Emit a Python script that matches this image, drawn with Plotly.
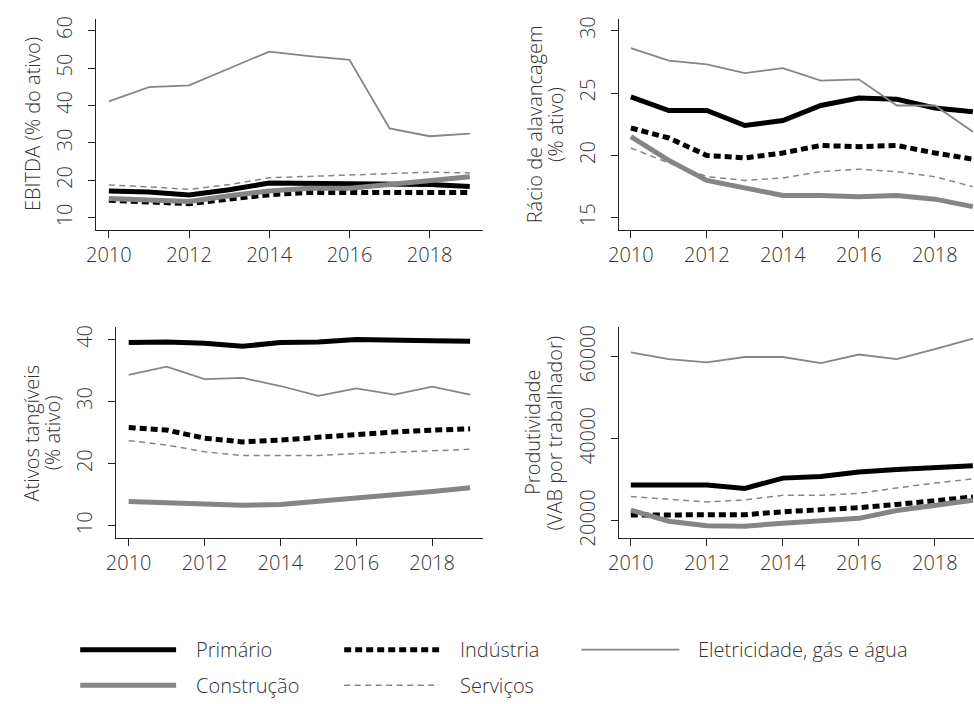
import plotly.graph_objects as go

W, H = 974, 704

years = list(range(2010, 2020))
sectors = ["Primário", "Indústria", "Eletricidade, gás e água", "Construção", "Serviços"]

# EBITDA (% do ativo)
ebitda_primario = [17.2, 16.9, 16.1, 17.5, 19.3, 19.2, 19.1, 18.9, 18.9, 18.4]
ebitda_industria = [14.7, 14.3, 13.8, 15.0, 16.2, 16.8, 16.8, 16.9, 16.9, 16.8]
ebitda_eletricidade = [41.1, 44.9, 45.4, 49.8, 54.4, 53.2, 52.2, 33.9, 31.8, 32.5]
ebitda_construcao = [15.2, 14.8, 14.4, 15.9, 17.2, 17.9, 17.9, 18.9, 19.8, 21.0]
ebitda_servicos = [18.8, 18.3, 17.6, 18.9, 20.7, 21.1, 21.3, 21.8, 22.2, 22.0]

# Rácio de alavancagem (% ativo)
alav_primario = [24.7, 23.6, 23.6, 22.4, 22.8, 24.0, 24.6, 24.5, 23.8, 23.5]
alav_industria = [22.2, 21.4, 20.0, 19.8, 20.2, 20.8, 20.7, 20.8, 20.2, 19.7]
alav_eletricidade = [28.6, 27.6, 27.3, 26.6, 27.0, 26.0, 26.1, 24.0, 24.0, 21.9]
alav_construcao = [21.5, 19.6, 18.0, 17.4, 16.8, 16.8, 16.7, 16.8, 16.5, 15.9]
alav_servicos = [20.6, 19.4, 18.3, 18.0, 18.2, 18.7, 18.9, 18.7, 18.3, 17.5]

# Ativos tangíveis (% ativo)
tang_primario = [39.5, 39.6, 39.4, 38.9, 39.5, 39.6, 40.0, 40.0, 39.8, 39.7]
tang_industria = [25.8, 25.4, 24.1, 23.5, 23.8, 24.3, 24.7, 25.1, 25.4, 25.6]
tang_eletricidade = [34.3, 35.6, 33.6, 33.8, 32.5, 30.9, 32.1, 31.1, 32.4, 31.1]
tang_construcao = [13.9, 13.7, 13.5, 13.3, 13.4, 13.9, 14.4, 15.0, 15.5, 16.1]
tang_servicos = [23.7, 23.0, 21.9, 21.3, 21.3, 21.3, 21.6, 21.8, 22.0, 22.3]

# Produtividade (VAB por trabalhador)
prod_primario = [28700, 28800, 28700, 27900, 30400, 30800, 31900, 32500, 32800, 33400]
prod_industria = [21400, 21400, 21200, 21500, 22200, 22600, 23200, 24000, 24800, 25800]
prod_eletricidade = [61000, 59400, 58600, 59900, 59900, 58400, 60500, 59400, 61800, 64400]
prod_construcao = [22600, 19900, 18800, 18700, 19400, 20100, 20600, 22500, 23700, 25000]
prod_servicos = [25900, 25200, 24600, 25100, 26200, 26200, 26700, 28000, 29200, 30200]

x_ticks = [2010, 2012, 2014, 2016, 2018]

GRAY = "#858585"
TEXT = "#333333"
AXIS = "#222222"
FONT = "Open Sans"

styles = {
    "Primário": dict(color="black", width=5, dash="solid"),
    "Indústria": dict(color="black", width=5, dash="7px,4px"),
    "Eletricidade, gás e água": dict(color=GRAY, width=1.8, dash="solid"),
    "Construção": dict(color=GRAY, width=5, dash="solid"),
    "Serviços": dict(color=GRAY, width=1.5, dash="6px,4.5px"),
}

panels = [
    dict(series=[ebitda_primario, ebitda_industria, ebitda_eletricidade, ebitda_construcao, ebitda_servicos],
         dom_x=(86, 477), dom_y=(17, 231), xr=[2009.68, 2019.32], yr=[6.84, 63.16],
         yticks=[10, 20, 30, 40, 50, 60], title=[("EBITDA (% do ativo)", 21)]),
    dict(series=[alav_primario, alav_industria, alav_eletricidade, alav_construcao, alav_servicos],
         dom_x=(615, 974), dom_y=(17, 231), xr=[2009.69, 2019.03], yr=[14.05, 30.95],
         yticks=[15, 20, 25, 30], title=[("Rácio de alavancagem", 529), ("(% ativo)", 550)]),
    dict(series=[tang_primario, tang_industria, tang_eletricidade, tang_construcao, tang_servicos],
         dom_x=(106, 477), dom_y=(330, 544), xr=[2009.66, 2019.33], yr=[7.98, 41.95],
         yticks=[10, 20, 30, 40], title=[("Ativos tangíveis", 21), ("(% ativo)", 42)]),
    dict(series=[prod_primario, prod_industria, prod_eletricidade, prod_construcao, prod_servicos],
         dom_x=(615, 974), dom_y=(330, 544), xr=[2009.69, 2019.03], yr=[15750, 67130],
         yticks=[20000, 40000, 60000], title=[("Produtividade", 528), ("(VAB por trabalhador)", 550)]),
]


def px_x(x):
    return x / W


def px_y(y):
    return 1 - y / H


fig = go.Figure()
annotations = []
shapes = []

for i, p in enumerate(panels, start=1):
    sfx = "" if i == 1 else str(i)
    for name, vals in zip(sectors, p["series"]):
        fig.add_trace(go.Scatter(
            x=years, y=vals, mode="lines", name=name, showlegend=False,
            line=styles[name], xaxis="x" + sfx, yaxis="y" + sfx,
        ))
    common = dict(showline=True, linecolor=AXIS, linewidth=1, ticks="outside", ticklen=7,
                  tickwidth=1, tickcolor=AXIS, showgrid=False, zeroline=False,
                  tickfont=dict(family=FONT, size=20, color=TEXT, weight=300))
    fig.update_layout(**{
        "xaxis" + sfx: dict(domain=[px_x(p["dom_x"][0]), px_x(p["dom_x"][1])], range=p["xr"],
                            anchor="y" + sfx, tickvals=x_ticks, **common),
        "yaxis" + sfx: dict(domain=[px_y(p["dom_y"][1]), px_y(p["dom_y"][0])], range=p["yr"],
                            anchor="x" + sfx, tickvals=p["yticks"], tickformat="d",
                            tickangle=-90, ticklabelstandoff=8, **common),
    })
    yc = (p["dom_y"][0] + p["dom_y"][1]) / 2
    for text, xc in p["title"]:
        annotations.append(dict(text=text, xref="paper", yref="paper", x=px_x(xc), y=px_y(yc),
                                xanchor="center", yanchor="middle", textangle=-90, showarrow=False,
                                font=dict(family=FONT, size=20, color=TEXT, weight=300)))

# legend: line samples and labels laid out in two rows
legend_items = [
    ("Primário", 70, 167, 185, 657),
    ("Indústria", 337, 433, 452, 657),
    ("Eletricidade, gás e água", 577, 676, 693, 657),
    ("Construção", 70, 167, 185, 693),
    ("Serviços", 337, 433, 452, 693),
]
for name, x0, x1, xt, yrow in legend_items:
    st = styles[name]
    shapes.append(dict(type="line", xref="paper", yref="paper", x0=px_x(x0), x1=px_x(x1),
                       y0=px_y(yrow), y1=px_y(yrow),
                       line=dict(color=st["color"], width=st["width"], dash=st["dash"])))
    annotations.append(dict(text=name, xref="paper", yref="paper", x=px_x(xt), y=px_y(yrow),
                            xanchor="left", yanchor="middle", showarrow=False,
                            font=dict(family=FONT, size=20, color=TEXT, weight=300)))

fig.update_layout(
    width=W, height=H, autosize=False,
    margin=dict(l=0, r=0, t=0, b=0),
    paper_bgcolor="white", plot_bgcolor="white",
    font=dict(family=FONT, size=20, color=TEXT),
    annotations=annotations, shapes=shapes,
    showlegend=False,
)

fig.write_html("out.html")
